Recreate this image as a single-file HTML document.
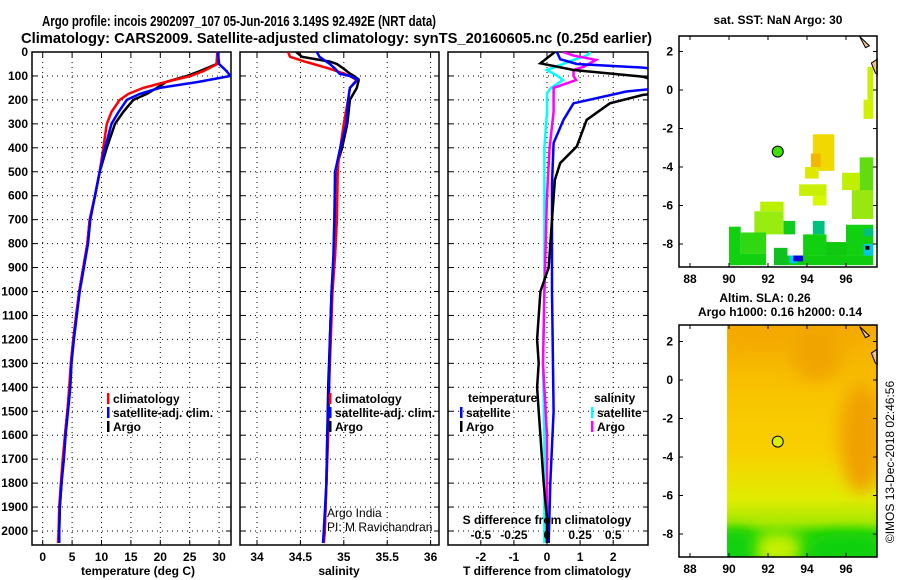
<!DOCTYPE html>
<html><head><meta charset="utf-8"><style>
html,body{margin:0;padding:0;background:#fff;}
svg{display:block;font-family:"Liberation Sans",Arial,sans-serif;}
.b{font-weight:bold;font-size:12px;}
</style></head><body>
<svg id="s" width="900" height="580" viewBox="0 0 900 580" xmlns="http://www.w3.org/2000/svg">
<text x="42" y="26" font-size="15" font-weight="bold" textLength="394" lengthAdjust="spacingAndGlyphs">Argo profile: incois 2902097_107 05-Jun-2016 3.149S 92.492E (NRT data)</text>
<text x="21" y="43" font-size="15" font-weight="bold" textLength="631" lengthAdjust="spacingAndGlyphs">Climatology: CARS2009. Satellite-adjusted climatology: synTS_20160605.nc (0.25d earlier)</text>
<g id="g"></g>
</svg>
<script>
// ---------- data ----------
const depthTicks=[0,100,200,300,400,500,600,700,800,900,1000,1100,1200,1300,1400,1500,1600,1700,1800,1900,2000];
const tempTicks=[0,5,10,15,20,25,30];
const salTicks=[34,34.5,35,35.5,36];
const tdiffTicks=[-2,-1,0,1,2];
const sdiffTicks=[-0.5,-0.25,0,0.25,0.5];
const sdiffLabels=["-0.5","-0.25","0","0.25","0.5"];
const depthLevels=[0,50,80,100,125,150,175,200,250,300,400,500,600,700,800,900,1000,1100,1200,1300,1400,1500,1600,1700,1800,1900,2000,2050];
const tempArgo=[29.7,29.6,26.7,24.5,21,19.4,17.7,15.4,13.7,12.3,10.9,9.7,8.9,8.0,7.6,6.9,6.2,5.7,5.2,4.8,4.6,4.2,3.8,3.5,3.2,2.9,2.8,2.8];
const tempClim=[29.7,29.7,27.3,25.1,21,17.1,14.6,13.1,11.7,10.9,10.3,9.7,8.9,8.0,7.6,6.9,6.2,5.7,5.2,4.8,4.5,4.2,3.8,3.4,3.1,2.8,2.7,2.6];
const tempSat=[29.8,30.0,31.3,31.9,26.5,19.9,16.5,14.3,12.9,11.7,10.6,9.7,8.9,8.1,7.7,7.0,6.3,5.8,5.3,4.9,4.7,4.3,3.9,3.6,3.2,2.9,2.8,2.8];
const salDepths=[0,20,40,50,70,90,100,115,120,150,200,300,400,450,500,700,850,1000,1200,1400,1600,1800,2000,2050];
const salArgo=[34.45,34.52,34.84,34.92,35.0,35.07,35.12,35.17,35.17,35.15,35.07,35.04,34.98,34.94,34.9,34.9,34.89,34.86,34.84,34.82,34.81,34.8,34.78,34.77];
const salClim=[34.36,34.38,34.55,34.65,34.84,35.0,35.07,35.14,35.14,35.07,35.05,35.0,34.96,34.94,34.93,34.92,34.9,34.87,34.85,34.83,34.82,34.8,34.78,34.77];
const salSat=[34.69,34.72,34.8,34.84,34.9,34.95,35.07,35.16,35.15,35.07,35.05,35.03,34.96,34.93,34.9,34.89,34.88,34.86,34.84,34.83,34.81,34.8,34.77,34.76];
const tdDepths=[0,47,75,103,130,170,179,214,283,394,464,533,700,900,1000,1200,1300,1400,1500,1600,1700,1800,1950,2050];
const tdArgo=[0.24,-0.2,0.8,2.9,3.5,3.5,2.9,1.9,1.2,0.9,0.4,0.24,0.15,0.05,-0.2,-0.3,-0.25,-0.3,-0.25,-0.2,-0.15,-0.1,0,0];
const tdSatDepths=[0,30,50,65,75,150,165,214,283,380,550,1000,1500,1800,2050];
const tdSat=[0.3,0.4,0.9,2.9,3.5,3.5,2.4,0.8,0.5,0.2,0.15,0.15,0.2,0.1,0.05];
const sdDepths=[0,15,33,61,75,100,117,150,172,250,400,600,1000,1300,1600,2050];
const sdSat=[0.33,0.3,0.2,0.07,0,0.08,0.12,0.03,0,0,-0.02,-0.02,-0.02,-0.03,-0.02,-0.02];
const sdArgo=[0.12,0.2,0.37,0.28,0.2,0.2,0.22,0.05,0.05,0.05,0.02,0.0,-0.02,-0.03,0.0,0.0];
// map data
const lonTicks=[88,90,92,94,96];
const latTicks=[2,0,-2,-4,-6,-8];
const sstCells=[
[97.1,1.2,97.4,-0.5,"#c8f000"],[96.9,-0.5,97.4,-1.5,"#d0f000"],
[94.3,-2.3,95.4,-4.2,"#f0d800"],[94.2,-3.3,94.7,-4.0,"#f0b800"],[93.9,-4.0,94.6,-4.6,"#e0e800"],
[96.7,-3.5,97.4,-5.5,"#60dc10"],[95.8,-4.3,96.7,-5.2,"#c0f000"],[96.3,-5.2,97.4,-6.7,"#98e810"],
[93.6,-4.9,95.0,-5.5,"#c8f000"],[94.3,-5.5,95.0,-6.0,"#d8f800"],
[91.6,-5.8,92.8,-6.3,"#b8f000"],[91.3,-6.3,92.8,-7.5,"#98ec10"],[92.8,-6.8,93.4,-7.5,"#10cc20"],
[94.3,-6.8,94.9,-7.5,"#00c080"],[90.0,-7.1,90.6,-9.1,"#10d010"],[90.6,-7.4,91.9,-8.5,"#30d810"],
[90.0,-8.5,91.9,-9.1,"#10d010"],[92.3,-8.2,93.0,-9.1,"#10c020"],[93.0,-8.6,97.4,-9.1,"#10cc10"],
[93.8,-7.5,95.0,-8.6,"#10d010"],[95.0,-7.9,96.4,-8.6,"#10c810"],[96.0,-7.0,97.4,-8.6,"#10d010"],
[96.9,-7.2,97.4,-7.6,"#00c080"],[96.9,-8.0,97.4,-8.6,"#00c8e0"],
[93.1,-8.6,93.5,-9.0,"#00c8ff"],[93.3,-8.6,93.8,-8.9,"#0000e0"],[97.0,-8.1,97.2,-8.3,"#000"]
];
// ---------- helpers ----------
const NS="http://www.w3.org/2000/svg";
const G=document.getElementById('g');
function el(t,a,p){const e=document.createElementNS(NS,t);for(const k in a)e.setAttribute(k,a[k]);(p||G).appendChild(e);return e;}
function tx(x,y,s,a,p){const e=el('text',Object.assign({x:x,y:y},a||{}),p);e.textContent=s;return e;}
const Y0=52,Y1=545;
const yD=d=>Y0+d*0.2395;
function panel(name,x0,x1,fx,ticks,labels,ticksY,showDepth){
  const g=el('g',{});
  
  
  const cp=name+'-clip';
  const c=el('clipPath',{id:cp},g);el('rect',{x:x0,y:Y0,width:x1-x0,height:Y1-Y0},c);
  depthTicks.forEach(d=>{
    el('line',{x1:x0,x2:x1,y1:yD(d),y2:yD(d),stroke:'#000','stroke-dasharray':'1,4','stroke-width':1},g);
    el('line',{x1:x0,x2:x0+5,y1:yD(d),y2:yD(d),stroke:'#000'},g);
    el('line',{x1:x1-5,x2:x1,y1:yD(d),y2:yD(d),stroke:'#000'},g);
    if(showDepth){const t=tx(28,yD(d)+4,String(d),{'text-anchor':'end',class:'b'},g);}
  });
  ticks.forEach((v,i)=>{
    const x=fx(v);
    el('line',{x1:x,x2:x,y1:Y0,y2:Y1,stroke:'#000','stroke-dasharray':'1,4'},g);
    el('line',{x1:x,x2:x,y1:Y1,y2:Y1-5,stroke:'#000'},g);
    el('line',{x1:x,x2:x,y1:Y0,y2:Y0+5,stroke:'#000'},g);
    const t=tx(x,ticksY,labels[i],{'text-anchor':'middle',class:'b'},g);
    
    
  });
  el('rect',{x:x0,y:Y0,width:x1-x0,height:Y1-Y0,fill:'none',stroke:'#000','stroke-width':1.5},g);
  return {g:g,clip:'url(#'+cp+')'};
}
function line(P,fx,ds,vs,col,name,w){
  const pts=ds.map((d,i)=>fx(vs[i]).toFixed(1)+','+yD(d).toFixed(1)).join(' ');
  const e=el('polyline',{points:pts,fill:'none',stroke:col,'stroke-width':w||2.5,'clip-path':P.clip},P.g);
  
  
}
function leg(x,y,col,label,p){
  el('rect',{x:x,y:y-10,width:2.5,height:11,fill:col},p);
  const t=tx(x+6,y,label,{class:'b'},p);
  
  
}
// panel 1 temperature
const fT=v=>42.7+v*5.88;
const P1=panel('temperature-panel',32,231,fT,tempTicks,tempTicks.map(String),561,true);
line(P1,fT,depthLevels,tempArgo,'#000','argo-temperature-line');
line(P1,fT,depthLevels,tempClim,'#f00','climatology-temperature-line');
line(P1,fT,depthLevels,tempSat,'#00f','satellite-temperature-line');
leg(107,403,'#f00','climatology',P1.g);leg(107,417,'#00f','satellite-adj. clim.',P1.g);leg(107,431,'#000','Argo',P1.g);
tx(138,575,'temperature (deg C)',{'text-anchor':'middle',class:'b',},P1.g);
// panel 2 salinity
const fS=v=>257+(v-34)*86.8;
const P2=panel('salinity-panel',240,439,fS,salTicks,salTicks.map(String),561,false);
line(P2,fS,salDepths,salArgo,'#000','argo-salinity-line');
line(P2,fS,salDepths,salClim,'#f00','climatology-salinity-line');
line(P2,fS,salDepths,salSat,'#00f','satellite-salinity-line');
leg(329,403,'#f00','climatology',P2.g);leg(329,417,'#00f','satellite-adj. clim.',P2.g);leg(329,431,'#000','Argo',P2.g);
tx(327,517,'Argo India',{'font-size':12,},P2.g);
tx(327,531,'PI: M Ravichandran',{'font-size':12,},P2.g);
tx(339,575,'salinity',{'text-anchor':'middle',class:'b',},P2.g);
// panel 3 differences
const fTD=v=>547+v*33.1, fSD=v=>547+v*132.4;
const P3=panel('difference-panel',448,648,fTD,tdiffTicks,tdiffTicks.map(String),561,false);
line(P3,fSD,sdDepths,sdSat,'#0ff','satellite-salinity-diff-line');
line(P3,fSD,sdDepths,sdArgo,'#f0f','argo-salinity-diff-line');
line(P3,fTD,tdSatDepths,tdSat,'#00f','satellite-temperature-diff-line');
line(P3,fTD,tdDepths,tdArgo,'#000','argo-temperature-diff-line');
sdiffTicks.forEach((v,i)=>{const t=tx(fSD(v),539,sdiffLabels[i],{'text-anchor':'middle',class:'b'},P3.g);});
tx(547,524,'S difference from climatology',{'text-anchor':'middle',class:'b',},P3.g);
tx(468,402,'temperature',{class:'b',},P3.g);
leg(460,417,'#00f','satellite',P3.g);leg(460,431,'#000','Argo',P3.g);
tx(594,402,'salinity',{class:'b',},P3.g);
leg(591,417,'#0ff','satellite',P3.g);leg(591,431,'#f0f','Argo',P3.g);
tx(547,575,'T difference from climatology',{'text-anchor':'middle',class:'b',},P3.g);
// maps
const MX0=679,MX1=877;
const fLon=v=>690+(v-88)*19.5;
function mapPanel(name){
  const g=el('g',{});
  
  
  return g;
}
function mapFrame(g,top,bot,fLat){
  lonTicks.forEach(v=>{const x=fLon(v);el('line',{x1:x,x2:x,y1:bot,y2:bot-4,stroke:'#000'},g);el('line',{x1:x,x2:x,y1:top,y2:top+4,stroke:'#000'},g);
    const t=tx(x,bot+16,String(v),{'text-anchor':'middle',class:'b'},g);});
  latTicks.forEach(v=>{const y=fLat(v);el('line',{x1:MX0,x2:MX0+4,y1:y,y2:y,stroke:'#000'},g);el('line',{x1:MX1-4,x2:MX1,y1:y,y2:y,stroke:'#000'},g);
    const t=tx(MX0-6,y+4,String(v),{'text-anchor':'end',class:'b'},g);});
  el('path',{d:`M${fLon(96.7)},${fLat(2.78)} L${fLon(97.2)},${fLat(2.3)} L${fLon(97.0)},${fLat(2.2)} Z`,fill:'#f0c090',stroke:'#000','stroke-width':1},g);
  el('path',{d:`M${fLon(97.3)},${fLat(1.4)} L${fLon(97.6)},${fLat(1.6)} L${fLon(97.6)},${fLat(0.8)} L${fLon(97.5)},${fLat(0.9)} Z`,fill:'#f0c090',stroke:'#000','stroke-width':1},g);
  el('rect',{x:MX0,y:top,width:MX1-MX0,height:bot-top,fill:'none',stroke:'#000','stroke-width':1.5},g);
}
// map 1
const T1=36,B1=267,fLat1=v=>90-v*19.25;
const M1=mapPanel('sst-map');
sstCells.forEach(c=>{const r=el('rect',{x:fLon(c[0]),y:fLat1(c[1]),width:fLon(c[2])-fLon(c[0]),height:fLat1(c[3])-fLat1(c[1]),fill:c[4]},M1);
  });
const d1=el('circle',{cx:fLon(92.5),cy:fLat1(-3.2),r:5.5,fill:'#40e000',stroke:'#000','stroke-width':1},M1);

mapFrame(M1,T1,B1,fLat1);
tx(778,24,'sat. SST: NaN Argo: 30',{'text-anchor':'middle',class:'b',},M1);
// map 2
const T2=325,B2=557,fLat2=v=>380-v*19.25;
const M2=mapPanel('sla-map');
const defs=el('defs',{},M2);
const lg=el('linearGradient',{id:'slag',x1:0,y1:0,x2:0,y2:1},defs);
[[0,'#f4a800'],[0.3,'#f8c400'],[0.55,'#f8d000'],[0.75,'#e0ec00'],[0.85,'#a8e800'],[0.9,'#30d800'],[1,'#10d010']].forEach(s=>el('stop',{offset:s[0],'stop-color':s[1]},lg));
const fb=el('filter',{id:'blr',x:'-50%',y:'-50%',width:'200%',height:'200%'},defs);el('feGaussianBlur',{stdDeviation:8},fb);
const cp2=el('clipPath',{id:'mc2'},defs);el('rect',{x:fLon(89.9),y:T2,width:MX1-fLon(89.9),height:B2-T2},cp2);
const fg=el('g',{'clip-path':'url(#mc2)'},M2);
el('rect',{x:fLon(89.9),y:T2,width:MX1-fLon(89.9),height:B2-T2,fill:'url(#slag)'},fg);
el('ellipse',{cx:fLon(96.8),cy:fLat2(-3),rx:22,ry:55,fill:'#f0a000',filter:'url(#blr)'},fg);
el('ellipse',{cx:fLon(94.5),cy:fLat2(1.5),rx:25,ry:30,fill:'#f0a400',filter:'url(#blr)'},fg);
el('ellipse',{cx:fLon(91.5),cy:fLat2(2.3),rx:30,ry:12,fill:'#f4a800',filter:'url(#blr)'},fg);
el('ellipse',{cx:fLon(92.5),cy:fLat2(-8.8),rx:25,ry:18,fill:'#c8f000',filter:'url(#blr)'},fg);
el('ellipse',{cx:fLon(96),cy:fLat2(-8.7),rx:40,ry:14,fill:'#10d010',filter:'url(#blr)'},fg);
el('ellipse',{cx:fLon(90.3),cy:fLat2(-8.5),rx:18,ry:14,fill:'#10d010',filter:'url(#blr)'},fg);
const d2=el('circle',{cx:fLon(92.5),cy:fLat2(-3.2),r:5.5,fill:'#d8f000',stroke:'#000','stroke-width':1},M2);

mapFrame(M2,T2,B2,fLat2);
tx(765,302,'Altim. SLA: 0.26',{'text-anchor':'middle',class:'b',},M2);
tx(780,316,'Argo h1000: 0.16 h2000: 0.14',{'text-anchor':'middle',class:'b',},M2);
tx(0,0,'©IMOS 13-Dec-2018 02:46:56',{'font-size':12,transform:'translate(894,462) rotate(-90)','text-anchor':'middle',},M2);
</script>
</body></html>
